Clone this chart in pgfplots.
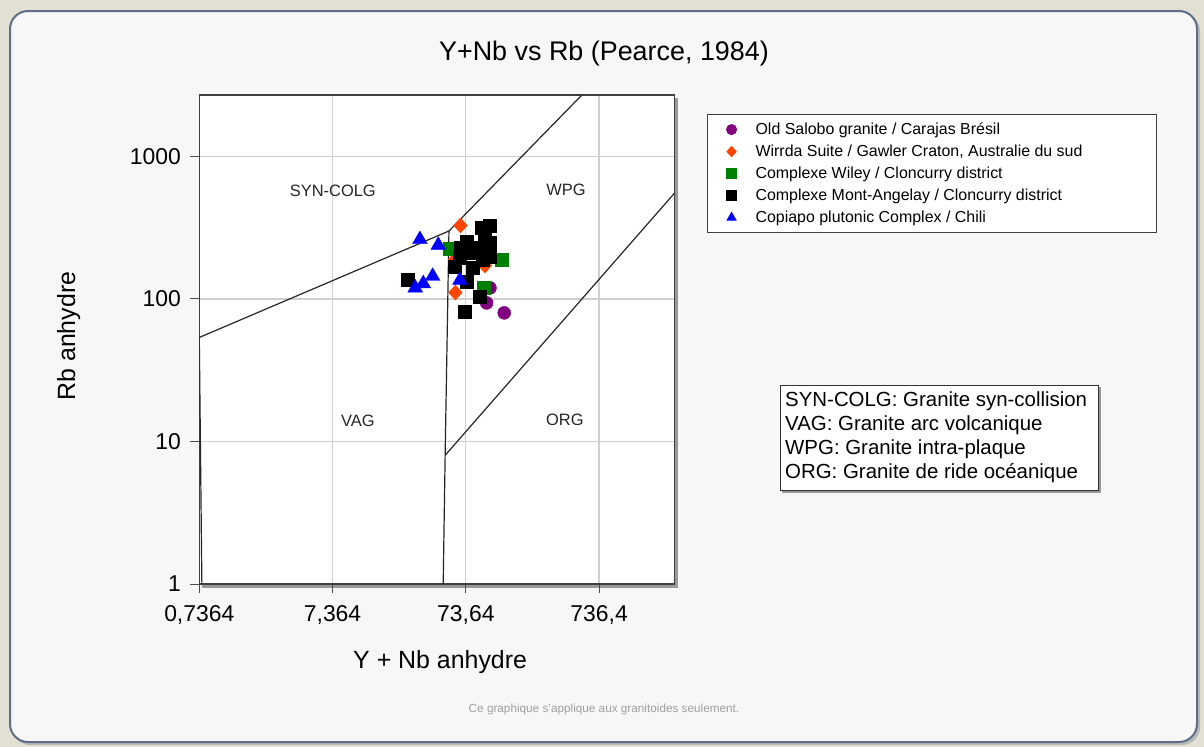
\documentclass[border=0pt]{standalone}
\usepackage{fontspec}
\setmainfont{Liberation Sans}
\usepackage{pgfplots}
\pgfplotsset{compat=1.18}
\definecolor{bgout}{HTML}{E2E0D2}
\definecolor{panel}{HTML}{F7F7F7}
\definecolor{panelborder}{HTML}{5C6E88}
\definecolor{cpurple}{HTML}{800080}
\definecolor{corange}{HTML}{FF4500}
\definecolor{cgreen}{HTML}{008000}
\definecolor{cblue}{HTML}{0000FF}
\definecolor{gridc}{HTML}{CFCFCF}
\begin{document}
\begin{tikzpicture}
\path[use as bounding box] (0,0) rectangle (1204bp,-747bp);
\fill[bgout] (0,0) rectangle (1204bp,-747bp);
\fill[gray!55, rounded corners=18bp] (12bp,-13bp) rectangle (1200bp,-745bp);
\draw[panelborder, line width=2bp, fill=panel, rounded corners=18bp] (10bp,-11bp) rectangle (1197bp,-742bp);
\node[font=\fontsize{27}{30}\selectfont] at (604bp,-54bp) {Y+Nb vs Rb (Pearce, 1984)};
% axis shadow
\fill[black!40] (202bp,-98bp) rectangle (677.5bp,-587.5bp);
\begin{axis}[
  at={(199.3bp,-584bp)}, anchor=south west,
  scale only axis, width=475bp, height=489bp,
  xmode=log, ymode=log,
  xmin=0.7364, xmax=2700, ymin=1, ymax=2700,
  xtick={0.7364,7.364,73.64,736.4},
  xticklabels={{0,7364},{7,364},{73,64},{736,4}},
  ytick={1,10,100,1000},
  yticklabels={1,10,100,1000},
  xminorticks=false, yminorticks=false,
  tick align=outside, major tick length=9bp,
  tick style={black!70, line width=1bp},
  xtick pos=bottom, ytick pos=left,
  xmajorgrids, ymajorgrids,
  grid style={gridc, line width=1.2bp},
  axis line style={draw=black!75, line width=1.3bp},
  axis background/.style={fill=white},
  xticklabel style={font=\fontsize{23}{25}\selectfont, yshift=-9bp},
  yticklabel style={font=\fontsize{23}{25}\selectfont, xshift=-6bp},
  xlabel={Y + Nb anhydre},
  ylabel={Rb anhydre},
  xlabel style={font=\fontsize{25}{28}\selectfont, at={(axis description cs:0.507,-0.160)}, anchor=center},
  ylabel style={font=\fontsize{25}{28}\selectfont, at={(axis description cs:-0.275,0.507)}, anchor=center},
  clip=true,
  legend style={at={(1.069,0.961)}, anchor=north west, draw=black!75, line width=1bp, fill=white,
    font=\fontsize{16}{19}\selectfont, inner xsep=0pt, inner ysep=4bp, row sep=0pt, column sep=0pt,
    nodes={inner ysep=0pt, inner xsep=5bp}},
  legend cell align=left,
  legend image code/.code={\path[draw=none, fill=none] (-24bp,-11bp) rectangle (19bp,11bp); \draw[#1] plot coordinates {(0bp,0bp)};},
  legend image post style={mark size=5bp},
]
% boundary lines
\addplot[black!85, line width=1.2bp, forget plot] coordinates {(0.77,1) (0.7364,53.7) (55,300) (547,2700)};
\addplot[black!85, line width=1.2bp, forget plot] coordinates {(55,300) (51.5,8) (49.8,1)};
\addplot[black!85, line width=1.2bp, forget plot] coordinates {(51.5,8) (2700,551)};
% zone labels
\node[font=\fontsize{16.5}{19}\selectfont, text=black!85] at (axis cs:7.40,578) {SYN-COLG};
\node[font=\fontsize{16.5}{19}\selectfont, text=black!85] at (axis cs:415,587) {WPG};
\node[font=\fontsize{16.5}{19}\selectfont, text=black!85] at (axis cs:11.4,14.0) {VAG};
\node[font=\fontsize{16.5}{19}\selectfont, text=black!85] at (axis cs:408,14.2) {ORG};
% data
\addplot[only marks, mark=*, color=cpurple, mark size=6.5bp] coordinates {
(142.9,79.9) (105.4,93.9) (111.7,119.7)};
\addlegendentry{\makebox[396bp][l]{Old Salobo granite / Carajas Brésil}}
\addplot[only marks, mark=diamond*, color=corange, mark size=7.5bp, mark options={xscale=1.2}] coordinates {
(67.1,328) (72.5,215.3) (61.0,189.2) (102.4,171.7) (61.5,110.9)};
\addlegendentry{Wirrda Suite / Gawler Craton, Australie du sud}
\addplot[only marks, mark=square*, color=cgreen, mark size=6.5bp] coordinates {
(56.0,226) (136.7,189.2) (99.5,119.7)};
\addlegendentry{Complexe Wiley / Cloncurry district}
\addplot[only marks, mark=square*, color=black, mark size=6.5bp] coordinates {
(27.2,136.9) (72.5,81.9) (94.0,103.5) (111.7,328) (97.3,317.6) (75.1,253.2)
(111.7,249.1) (81.8,211.8) (111.7,198.6) (61.0,168.9) (83.2,166.2) (75.1,132.5)
(89.2,229.7) (99.0,189.2) (67.7,229.7) (102.4,270.1) (66.5,195.4)};
\addlegendentry{Complexe Mont-Angelay / Cloncurry district}
\addplot[only marks, mark=triangle*, color=cblue, mark size=8.5bp] coordinates {
(33.3,261.5) (45.7,238.5) (41.5,144.4) (35.3,128.3) (30.7,119.7) (66.5,135.3)};
\addlegendentry{Copiapo plutonic Complex / Chili}
\end{axis}
% region description box
\fill[black!40] (782bp,-387bp) rectangle (1101bp,-493bp);
\draw[black!80, line width=1bp, fill=white] (780bp,-385bp) rectangle (1098bp,-490bp);
\node[anchor=west, align=left, inner sep=0pt, font=\fontsize{20.5}{24}\selectfont] at (785bp,-437bp)
{SYN-COLG: Granite syn-collision\\VAG: Granite arc volcanique\\WPG: Granite intra-plaque\\ORG: Granite de ride océanique};
\node[text=gray!75, font=\fontsize{11.8}{13}\selectfont] at (604bp,-709bp) {Ce graphique s'applique aux granitoides seulement.};
\end{tikzpicture}
\end{document}
